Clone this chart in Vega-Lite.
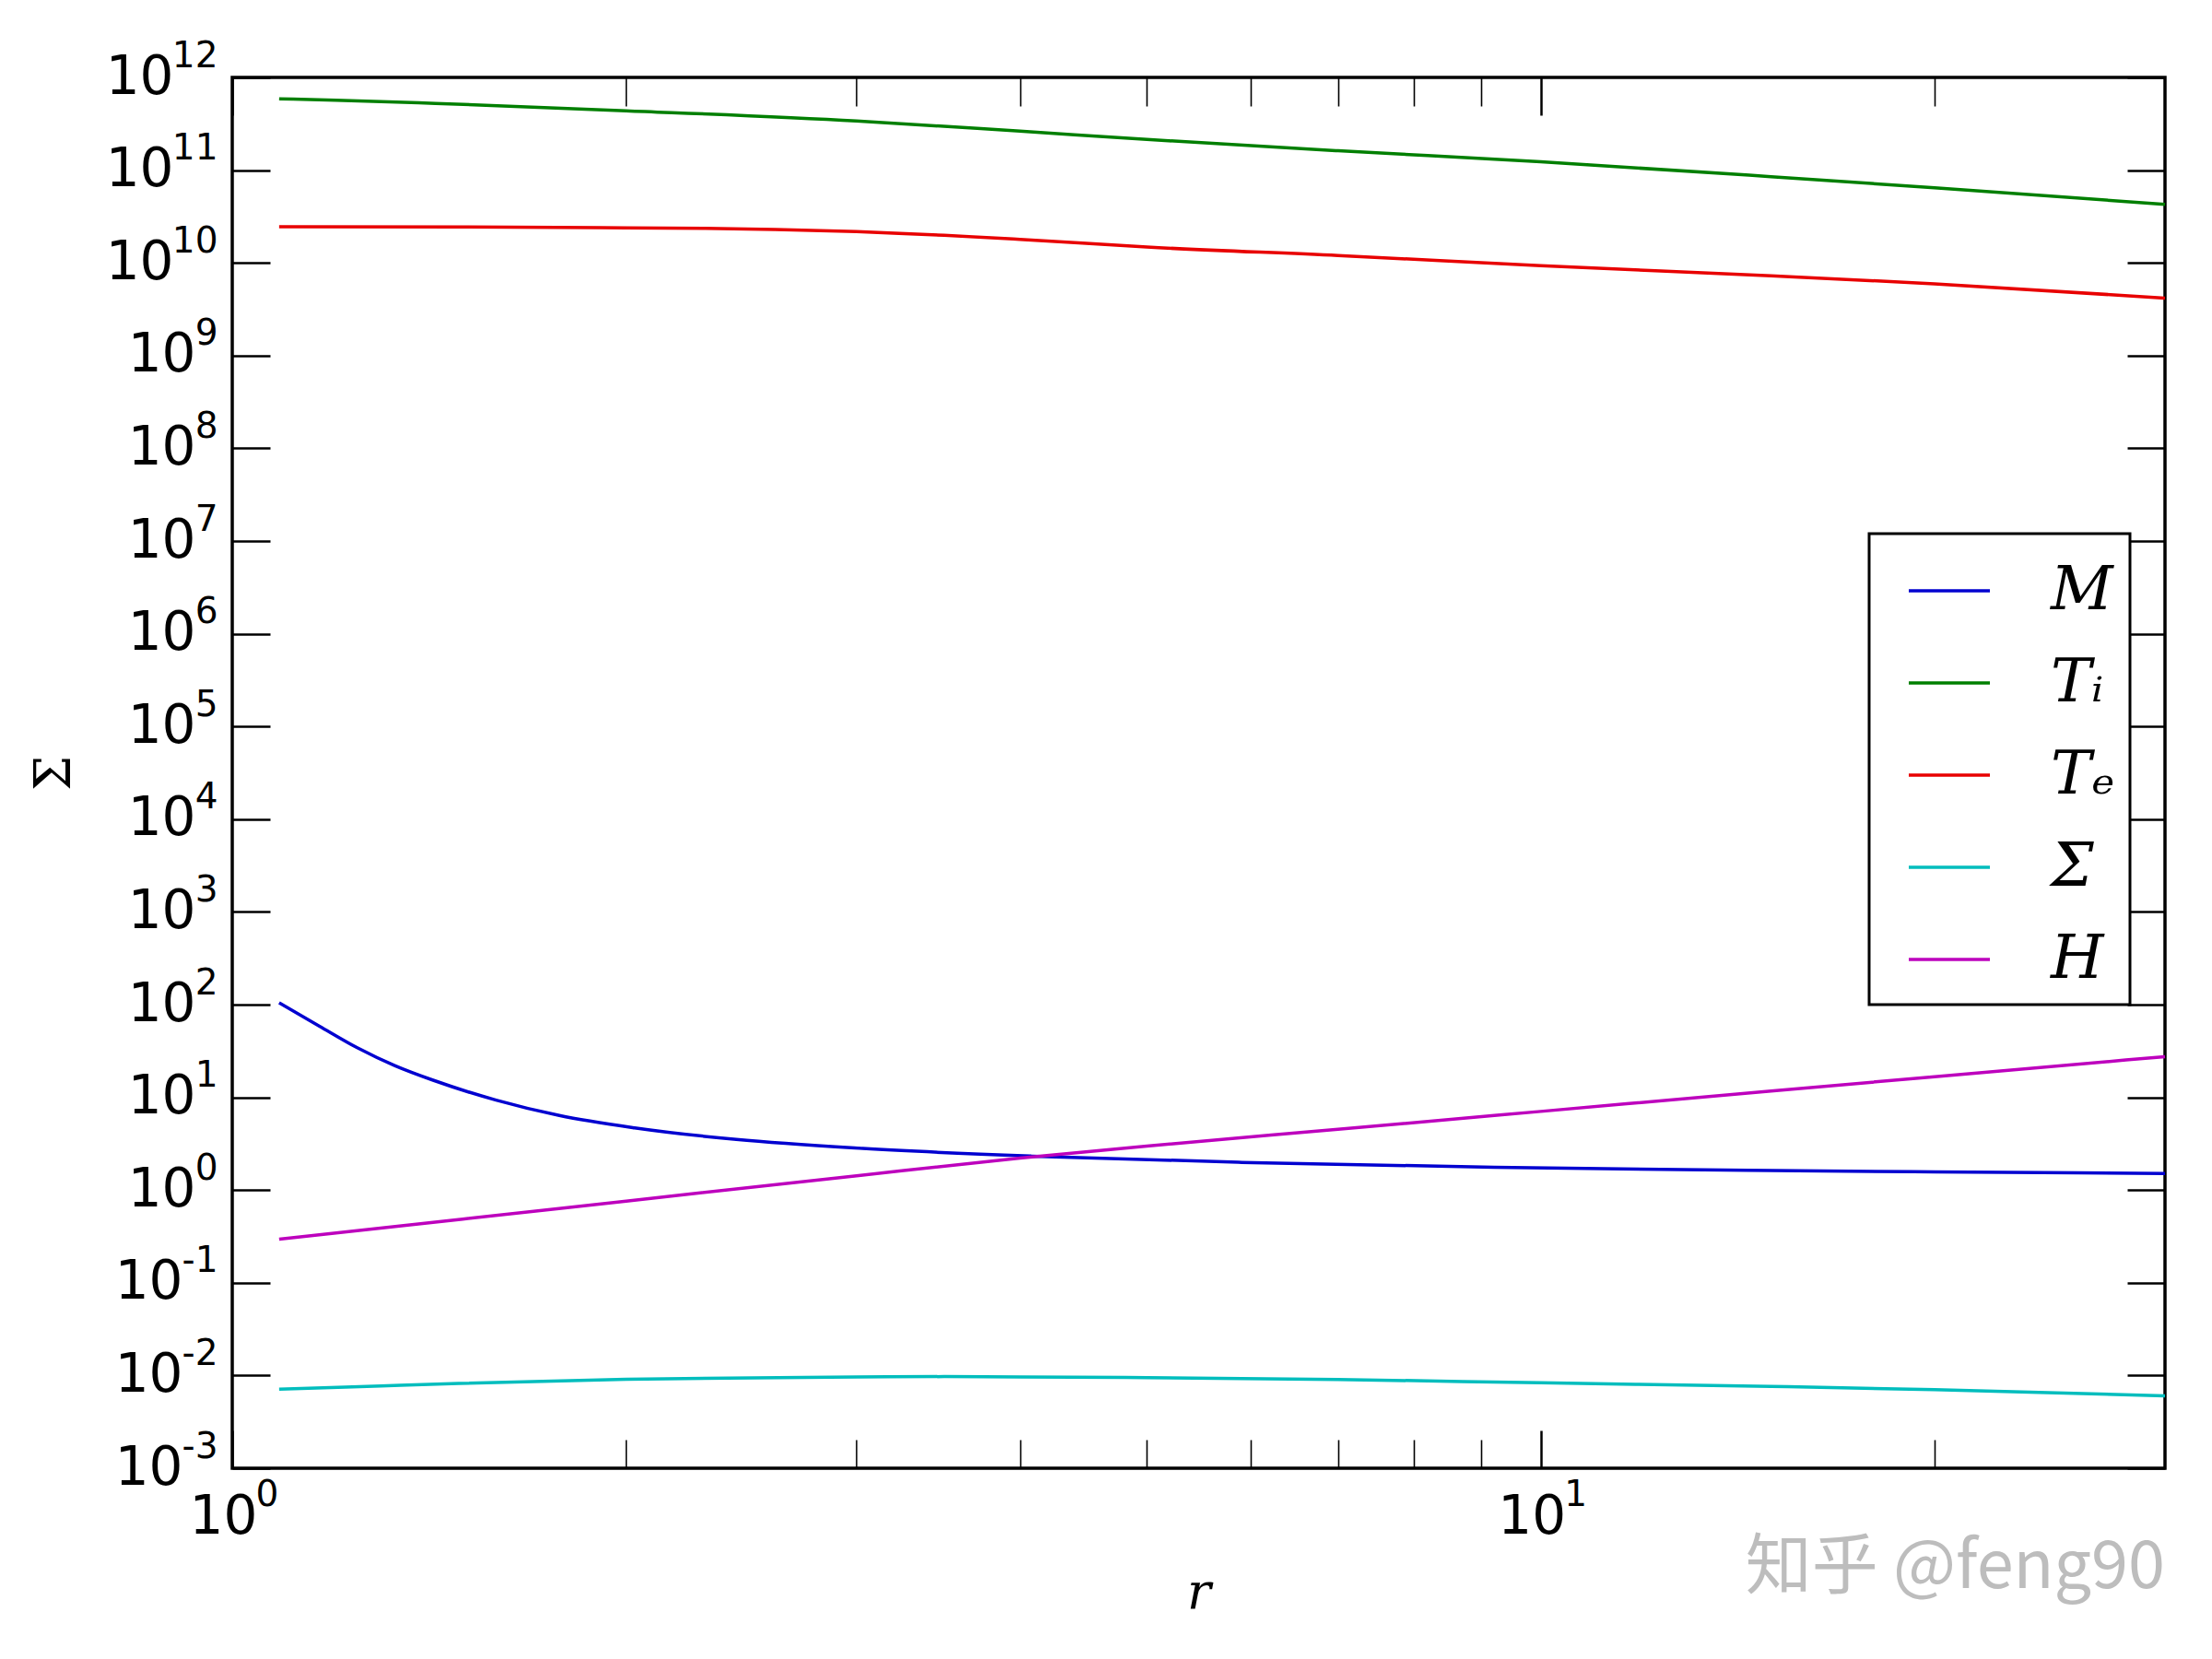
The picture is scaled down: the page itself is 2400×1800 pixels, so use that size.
{
  "$schema": "https://vega.github.io/schema/vega-lite/v6.json",
  "width": 2097,
  "height": 1509,
  "autosize": "none",
  "padding": {"left": 252, "top": 84, "right": 51, "bottom": 207},
  "background": "white",
  "config": {
    "view": {"stroke": "black", "strokeWidth": 3.5},
    "axis": {
      "grid": false,
      "domain": false,
      "labelFont": "DejaVu Sans",
      "labelFontSize": 58,
      "labelColor": "black",
      "tickColor": "black",
      "labelOverlap": false,
      "labelFlush": false
    }
  },
  "title": {
    "text": "知乎 @feng90",
    "orient": "bottom",
    "anchor": "end",
    "frame": "group",
    "offset": -89,
    "font": "Noto Sans CJK SC",
    "fontSize": 72,
    "fontWeight": "normal",
    "color": "#bdbdbd"
  },
  "data": {
    "values": [
      {"r": 1.086, "v": 104.7, "s": "M"},
      {"r": 1.166, "v": 58.5, "s": "M"},
      {"r": 1.246, "v": 34.3, "s": "M"},
      {"r": 1.332, "v": 21.9, "s": "M"},
      {"r": 1.424, "v": 15.3, "s": "M"},
      {"r": 1.591, "v": 9.33, "s": "M"},
      {"r": 1.778, "v": 6.37, "s": "M"},
      {"r": 2.03, "v": 4.69, "s": "M"},
      {"r": 2.428, "v": 3.51, "s": "M"},
      {"r": 3.033, "v": 2.81, "s": "M"},
      {"r": 4.09, "v": 2.32, "s": "M"},
      {"r": 5.91, "v": 1.99, "s": "M"},
      {"r": 9.22, "v": 1.76, "s": "M"},
      {"r": 14.38, "v": 1.63, "s": "M"},
      {"r": 20, "v": 1.57, "s": "M"},
      {"r": 30, "v": 1.51, "s": "M"},

      {"r": 1.086, "v": 5.89e11, "s": "Tᵢ"},
      {"r": 1.2, "v": 5.69e11, "s": "Tᵢ"},
      {"r": 1.43, "v": 5.25e11, "s": "Tᵢ"},
      {"r": 2, "v": 4.37e11, "s": "Tᵢ"},
      {"r": 3, "v": 3.39e11, "s": "Tᵢ"},
      {"r": 4, "v": 2.63e11, "s": "Tᵢ"},
      {"r": 5, "v": 2.14e11, "s": "Tᵢ"},
      {"r": 7, "v": 1.62e11, "s": "Tᵢ"},
      {"r": 10, "v": 1.23e11, "s": "Tᵢ"},
      {"r": 15, "v": 8.51e10, "s": "Tᵢ"},
      {"r": 20, "v": 6.46e10, "s": "Tᵢ"},
      {"r": 30, "v": 4.27e10, "s": "Tᵢ"},

      {"r": 1.086, "v": 2.45e10, "s": "Tₑ"},
      {"r": 1.5, "v": 2.443e10, "s": "Tₑ"},
      {"r": 2, "v": 2.39e10, "s": "Tₑ"},
      {"r": 2.3, "v": 2.355e10, "s": "Tₑ"},
      {"r": 2.6, "v": 2.29e10, "s": "Tₑ"},
      {"r": 3, "v": 2.17e10, "s": "Tₑ"},
      {"r": 3.5, "v": 1.98e10, "s": "Tₑ"},
      {"r": 4, "v": 1.79e10, "s": "Tₑ"},
      {"r": 5, "v": 1.48e10, "s": "Tₑ"},
      {"r": 7, "v": 1.20e10, "s": "Tₑ"},
      {"r": 10, "v": 9.33e9, "s": "Tₑ"},
      {"r": 15, "v": 7.24e9, "s": "Tₑ"},
      {"r": 20, "v": 5.95e9, "s": "Tₑ"},
      {"r": 30, "v": 4.17e9, "s": "Tₑ"},

      {"r": 1.086, "v": 0.00710, "s": "Σ"},
      {"r": 1.3, "v": 0.00771, "s": "Σ"},
      {"r": 1.49, "v": 0.00820, "s": "Σ"},
      {"r": 2, "v": 0.00912, "s": "Σ"},
      {"r": 3, "v": 0.00962, "s": "Σ"},
      {"r": 3.5, "v": 0.00973, "s": "Σ"},
      {"r": 4, "v": 0.00962, "s": "Σ"},
      {"r": 5, "v": 0.00948, "s": "Σ"},
      {"r": 7, "v": 0.00906, "s": "Σ"},
      {"r": 10, "v": 0.00834, "s": "Σ"},
      {"r": 15, "v": 0.00762, "s": "Σ"},
      {"r": 20, "v": 0.00705, "s": "Σ"},
      {"r": 30, "v": 0.00604, "s": "Σ"},

      {"r": 1.086, "v": 0.295, "s": "H"},
      {"r": 1.5, "v": 0.486, "s": "H"},
      {"r": 2, "v": 0.760, "s": "H"},
      {"r": 3, "v": 1.426, "s": "H"},
      {"r": 4, "v": 2.21, "s": "H"},
      {"r": 5, "v": 2.98, "s": "H"},
      {"r": 7, "v": 4.52, "s": "H"},
      {"r": 10, "v": 7.05, "s": "H"},
      {"r": 15, "v": 11.7, "s": "H"},
      {"r": 20, "v": 16.7, "s": "H"},
      {"r": 30, "v": 27.5, "s": "H"}
    ]
  },
  "layer": [
    {
      "mark": {"type": "line", "strokeWidth": 3.5, "interpolate": "monotone"},
      "encoding": {
        "x": {
          "field": "r", "type": "quantitative",
          "scale": {"type": "log", "domain": [1, 30], "nice": false},
          "axis": {
            "orient": "bottom", "ticks": false, "values": [1, 10], "labelPadding": 24,
            "labelExpr": "'10'", "labelOffset": -10,
            "title": "r", "titleFont": "DejaVu Serif", "titleFontStyle": "italic",
            "titleFontWeight": "normal", "titleFontSize": 54, "titlePadding": 26, "titleColor": "black"
          }
        },
        "y": {
          "field": "v", "type": "quantitative",
          "scale": {"type": "log", "domain": [0.001, 1e12], "nice": false},
          "axis": {
            "orient": "left", "ticks": false, "labelPadding": 40,
            "values": [1, 10, 100, 1000, 1e4, 1e5, 1e6, 1e7, 1e8, 1e9],
            "labelExpr": "'10'",
            "title": "Σ", "titleFont": "DejaVu Serif", "titleFontWeight": "normal",
            "titleFontSize": 54, "titlePadding": 52, "titleColor": "black"
          }
        },
        "color": {
          "field": "s", "type": "nominal",
          "scale": {
            "domain": ["M", "Tᵢ", "Tₑ", "Σ", "H"],
            "range": ["#0000d0", "#007f00", "#e80000", "#00bdbd", "#bd00bd"]
          },
          "legend": {
            "orient": "none", "legendX": 1776, "legendY": 495,
            "title": null,
            "symbolType": "stroke", "symbolSize": 7744, "symbolStrokeWidth": 3.5,
            "symbolOffset": 25,
            "labelFont": "DejaVu Serif", "labelFontStyle": "italic", "labelFontSize": 66,
            "labelColor": "black", "labelOffset": 64,
            "padding": 16, "rowPadding": 21,
            "strokeColor": "black", "fillColor": "white",
            "encode": {"legend": {"update": {"strokeWidth": {"value": 3}}}}
          }
        }
      }
    },
    {
      "mark": {"type": "line", "opacity": 0},
      "encoding": {
        "x": {
          "field": "r", "type": "quantitative",
          "axis": {
            "orient": "bottom", "ticks": false, "values": [1, 10], "labelFontSize": 39,
            "labelAlign": "left", "labelBaseline": "alphabetic", "labelPadding": 40,
            "labelExpr": "datum.value < 5 ? '0' : '1'", "labelOffset": 25,
            "title": null
          }
        },
        "y": {
          "field": "v", "type": "quantitative",
          "axis": {
            "orient": "left", "ticks": false, "labelFontSize": 39,
            "labelAlign": "right", "labelBaseline": "alphabetic", "labelPadding": 16,
            "labelOffset": -12,
            "values": [0.001, 0.01, 0.1, 1, 10, 100, 1000, 1e4, 1e5, 1e6, 1e7, 1e8, 1e9, 1e10, 1e11, 1e12],
            "labelExpr": "toString(round(log(datum.value)/LN10))",
            "title": null
          }
        }
      }
    },
    {
      "mark": {"type": "line", "opacity": 0},
      "encoding": {
        "x": {
          "field": "r", "type": "quantitative",
          "axis": {"orient": "bottom", "labels": false, "values": [1, 10], "tickSize": -41, "tickWidth": 2.5, "title": null}
        },
        "y": {
          "field": "v", "type": "quantitative",
          "axis": {
            "orient": "left", "labels": false, "tickSize": -41, "tickWidth": 2.5, "title": null,
            "values": [0.001, 0.01, 0.1, 1, 10, 100, 1000, 1e4, 1e5, 1e6, 1e7, 1e8, 1e9, 1e10, 1e11, 1e12]
          }
        }
      }
    },
    {
      "mark": {"type": "line", "opacity": 0},
      "encoding": {
        "x": {
          "field": "r", "type": "quantitative",
          "axis": {"orient": "top", "labels": false, "values": [1, 10], "tickSize": -41, "tickWidth": 2.5, "title": null}
        },
        "y": {
          "field": "v", "type": "quantitative",
          "axis": {
            "orient": "right", "labels": false, "tickSize": -41, "tickWidth": 2.5, "title": null,
            "values": [0.001, 0.01, 0.1, 1, 10, 100, 1000, 1e4, 1e5, 1e6, 1e7, 1e8, 1e9, 1e10, 1e11, 1e12]
          }
        }
      }
    },
    {
      "mark": {"type": "line", "opacity": 0},
      "encoding": {
        "x": {
          "field": "r", "type": "quantitative",
          "axis": {"orient": "bottom", "labels": false, "values": [2, 3, 4, 5, 6, 7, 8, 9, 20], "tickSize": -31, "tickWidth": 1.6, "title": null}
        },
        "y": {
          "field": "v", "type": "quantitative",
          "axis": {"orient": "left", "ticks": false, "labelPadding": 64, "values": [1e10, 1e11, 1e12], "labelExpr": "'10'", "title": null}
        }
      }
    },
    {
      "mark": {"type": "line", "opacity": 0},
      "encoding": {
        "x": {
          "field": "r", "type": "quantitative",
          "axis": {"orient": "top", "labels": false, "values": [2, 3, 4, 5, 6, 7, 8, 9, 20], "tickSize": -31, "tickWidth": 1.6, "title": null}
        },
        "y": {
          "field": "v", "type": "quantitative",
          "axis": {"orient": "left", "ticks": false, "labelPadding": 54, "values": [0.001, 0.01, 0.1], "labelExpr": "'10'", "title": null}
        }
      }
    }
  ],
  "resolve": {"axis": {"x": "independent", "y": "independent"}}
}
